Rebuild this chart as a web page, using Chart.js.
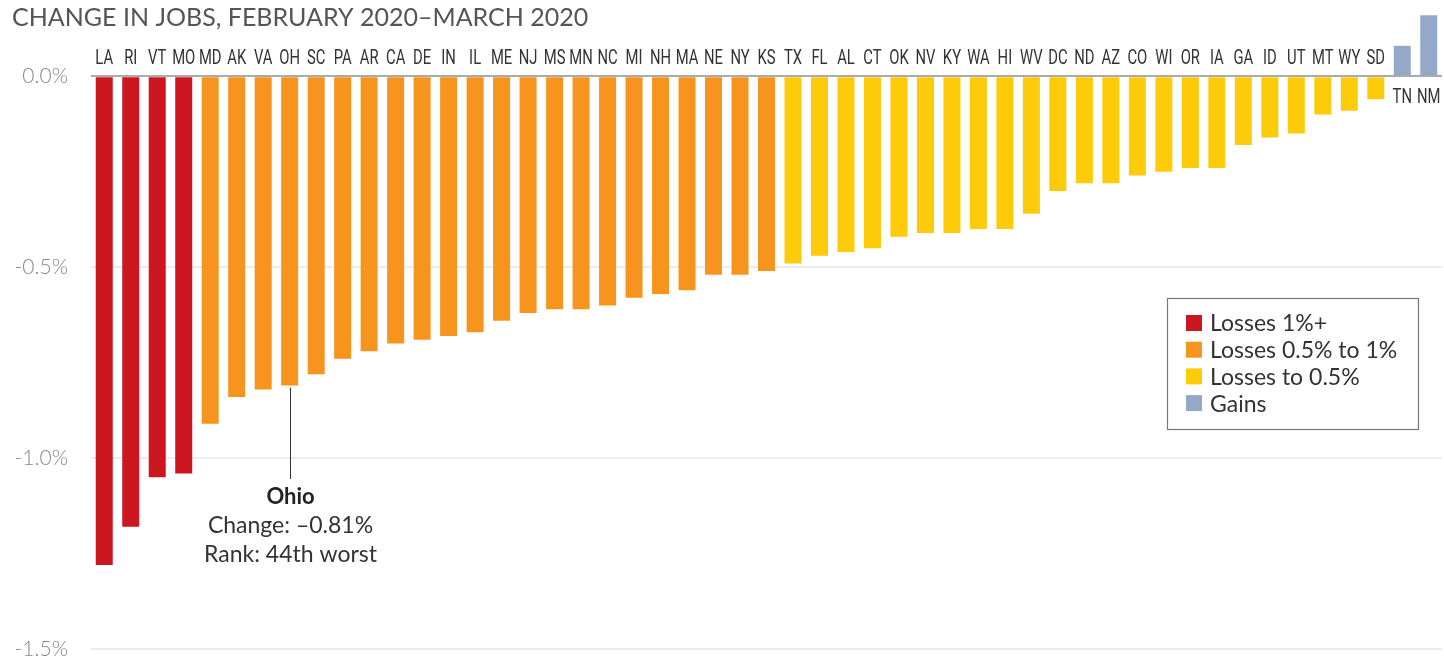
<!DOCTYPE html>
<html>
<head>
<meta charset="utf-8">
<script src="https://cdn.jsdelivr.net/npm/chart.js@4"></script>
<style>
  html, body { margin: 0; padding: 0; background: #fff; }
  #wrap { width: 1444px; height: 658px; }
</style>
</head>
<body>
<div id="wrap"><canvas id="jobsChart" width="1444" height="658"></canvas></div>
<script>
// states, sorted from worst to best change
const states = ['LA', 'RI', 'VT', 'MO', 'MD', 'AK', 'VA', 'OH', 'SC', 'PA', 'AR', 'CA', 'DE', 'IN', 'IL', 'ME', 'NJ', 'MS', 'MN', 'NC',
    'MI', 'NH', 'MA', 'NE', 'NY', 'KS', 'TX', 'FL', 'AL', 'CT', 'OK', 'NV', 'KY', 'WA', 'HI', 'WV', 'DC', 'ND', 'AZ', 'CO',
    'WI', 'OR', 'IA', 'GA', 'ID', 'UT', 'MT', 'WY', 'SD', 'TN', 'NM'];

// percent change in jobs, Feb 2020 - Mar 2020
const changes = [-1.28, -1.18, -1.05, -1.04, -0.91, -0.84, -0.82, -0.81, -0.78, -0.74, -0.72, -0.70, -0.69, -0.68, -0.67, -0.64, -0.62, -0.61, -0.61, -0.60,
    -0.58, -0.57, -0.56, -0.52, -0.52, -0.51, -0.49, -0.47, -0.46, -0.45, -0.42, -0.41, -0.41, -0.40, -0.40, -0.36, -0.30, -0.28, -0.28, -0.26,
    -0.25, -0.24, -0.24, -0.18, -0.16, -0.15, -0.10, -0.09, -0.06, 0.08, 0.16];

const legendLabels = ['Losses 1%+', 'Losses 0.5% to 1%', 'Losses to 0.5%', 'Gains'];
const yTicks = [-1.5, -1.0, -0.5, 0];

const highlight = { state: 'OH', name: 'Ohio', change: '–0.81%', rank: '44th worst' };

const colors = ['#cc1720', '#f7941e', '#fecb0b', '#94a9c9'];

function groupOf(v) {
    if (v <= -1) return 0;
    if (v <= -0.5) return 1;
    if (v < 0) return 2;
    return 3;
}

const overlay = {
    id: 'overlay',
    afterDraw(chart) {
        const c = chart.ctx;
        const xs = chart.scales.x;
        const ys = chart.scales.y;
        const y0 = ys.getPixelForValue(0);
        c.save();

        // title
        c.fillStyle = '#555';
        c.font = '25px Lato, "Open Sans", sans-serif';
        c.textAlign = 'left';
        c.textBaseline = 'middle';
        c.fillText('CHANGE IN JOBS, FEBRUARY 2020–MARCH 2020', 12, 18);

        // state labels (squeezed to look condensed)
        c.fillStyle = '#333';
        c.font = '20px Roboto, sans-serif';
        c.textAlign = 'center';
        const squeeze = 0.74;
        states.forEach((s, i) => {
            const x = xs.getPixelForValue(i);
            const y = changes[i] < 0 ? y0 - 17 : y0 + 22;
            c.save();
            c.translate(x, y);
            c.scale(squeeze, 1);
            c.fillText(s, 0, 0);
            c.restore();
        });

        // ohio callout
        const hi = states.indexOf(highlight.state);
        const hx = Math.round(xs.getPixelForValue(hi)) + 0.5;
        const hy = ys.getPixelForValue(changes[hi]);
        c.strokeStyle = '#333';
        c.lineWidth = 1;
        c.beginPath();
        c.moveTo(hx, hy + 2);
        c.lineTo(hx, 479);
        c.stroke();
        c.fillStyle = '#222';
        c.font = 'bold 22px Lato, sans-serif';
        c.fillText(highlight.name, hx, 497);
        c.fillStyle = '#333';
        c.font = '23px Lato, sans-serif';
        c.fillText('Change: ' + highlight.change, hx, 526);
        c.fillText('Rank: ' + highlight.rank, hx, 555);

        // legend box
        c.fillStyle = '#fff';
        c.fillRect(1167, 298, 251, 131);
        c.strokeStyle = '#777';
        c.lineWidth = 1.2;
        c.strokeRect(1167.5, 298.5, 251, 131);
        c.textAlign = 'left';
        c.font = '23px Lato, sans-serif';
        legendLabels.forEach((lab, i) => {
            const cy = 323 + i * 26.7;
            c.fillStyle = colors[i];
            c.fillRect(1186, cy - 8, 16, 16);
            c.fillStyle = '#333';
            c.fillText(lab, 1210, cy + 1);
        });
        c.restore();
    }
};

const ctx = document.getElementById('jobsChart').getContext('2d');
const jobsChart = new Chart(ctx, {
    type: 'bar',
    data: {
        labels: states,
        datasets: [{
            data: changes,
            backgroundColor: changes.map(v => colors[groupOf(v)]),
            barPercentage: 0.642,
            categoryPercentage: 1.0
        }]
    },
    options: {
        responsive: false,
        animation: false,
        layout: { padding: { left: 0, right: 2, top: 0, bottom: 9 } },
        plugins: {
            legend: { display: false },
            tooltip: { enabled: false },
            title: { display: false }
        },
        scales: {
            x: { display: false },
            y: {
                min: -1.5,
                max: 0.2,
                z: 1,
                border: { display: false },
                afterBuildTicks: scale => {
                    scale.ticks = yTicks.map(v => ({ value: v }));
                },
                afterFit: scale => {
                    scale.width = 91;
                    scale.paddingTop = 0;
                    scale.paddingBottom = 0;
                },
                grid: {
                    drawTicks: false,
                    lineWidth: 2,
                    color: c => c.tick && c.tick.value === 0 ? 'rgba(0,0,0,0.33)' : 'rgba(0,0,0,0.075)'
                },
                ticks: {
                    padding: 23,
                    color: '#888',
                    font: { family: 'Lato', size: 21, weight: '300' },
                    callback: v => v.toFixed(1) + '%'
                }
            }
        }
    },
    plugins: [overlay]
});
</script>
</body>
</html>
